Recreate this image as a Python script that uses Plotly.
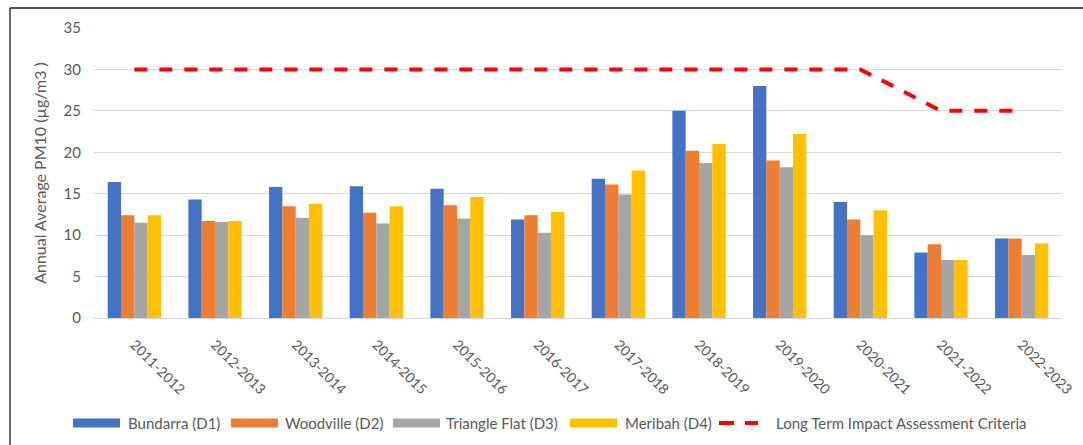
import plotly.graph_objects as go

years = ["2011-2012", "2012-2013", "2013-2014", "2014-2015", "2015-2016", "2016-2017",
         "2017-2018", "2018-2019", "2019-2020", "2020-2021", "2021-2022", "2022-2023"]

bundarra = [16.4, 14.3, 15.8, 15.9, 15.6, 11.9, 16.8, 25.0, 28.0, 14.0, 7.9, 9.6]
woodville = [12.4, 11.7, 13.5, 12.7, 13.6, 12.4, 16.1, 20.2, 19.0, 11.9, 8.9, 9.6]
triangle_flat = [11.5, 11.6, 12.1, 11.4, 12.0, 10.3, 14.9, 18.7, 18.2, 10.0, 7.0, 7.6]
meribah = [12.4, 11.7, 13.8, 13.5, 14.6, 12.8, 17.8, 21.0, 22.2, 13.0, 7.0, 9.0]
criteria = [30, 30, 30, 30, 30, 30, 30, 30, 30, 30, 25, 25]

series_names = ["Bundarra (D1)", "Woodville (D2)", "Triangle Flat (D3)", "Meribah (D4)"]
series_values = [bundarra, woodville, triangle_flat, meribah]
series_colors = ["#4472C4", "#ED7D31", "#A5A5A5", "#FFC000"]
criteria_name = "Long Term Impact Assessment Criteria"
criteria_color = "#FF0000"

W, H = 1083, 445
L, R, T, B = 94, 21, 28, 127
PW, PH = W - L - R, H - T - B

font_family = "Lato, Open Sans, Arial"
grey_text = "#595959"


def px_x(px):
    return (px - L) / PW


def px_y(py):
    return (H - B - py) / PH


fig = go.Figure()
for name, vals, col in zip(series_names, series_values, series_colors):
    fig.add_trace(go.Bar(x=years, y=vals, name=name, marker_color=col,
                         marker_line_width=0))

fig.add_trace(go.Scatter(x=years, y=criteria, mode="lines", name=criteria_name,
                         line=dict(color=criteria_color, width=4, dash="13px,12px")))

# Custom legend row: wide colour swatches followed by their labels
shapes = []
annotations = []
legend_y = 423
swatch_x = [73, 231, 393, 570]
label_x = [126, 283, 444, 623]
for x0, lx, name, col in zip(swatch_x, label_x, series_names, series_colors):
    shapes.append(dict(type="rect", xref="paper", yref="paper",
                       x0=px_x(x0), x1=px_x(x0 + 47),
                       y0=px_y(legend_y + 4.5), y1=px_y(legend_y - 4.5),
                       fillcolor=col, line_width=0))
    annotations.append(dict(text=name, xref="paper", yref="paper",
                            x=px_x(lx), y=px_y(legend_y), xanchor="left",
                            yanchor="middle", showarrow=False,
                            font=dict(size=15, color=grey_text, family=font_family)))
for d0, d1 in [(719, 734), (745, 758)]:
    shapes.append(dict(type="line", xref="paper", yref="paper",
                       x0=px_x(d0), x1=px_x(d1), y0=px_y(legend_y), y1=px_y(legend_y),
                       line=dict(color=criteria_color, width=4)))
annotations.append(dict(text=criteria_name, xref="paper", yref="paper",
                        x=px_x(774), y=px_y(legend_y), xanchor="left",
                        yanchor="middle", showarrow=False,
                        font=dict(size=15, color=grey_text, family=font_family)))

# Chart frame: top and left edges
shapes.append(dict(type="line", xref="paper", yref="paper",
                   x0=px_x(10), x1=px_x(1083), y0=px_y(8), y1=px_y(8),
                   line=dict(color="#1A1A1A", width=1.3)))
shapes.append(dict(type="line", xref="paper", yref="paper",
                   x0=px_x(10), x1=px_x(10), y0=px_y(8), y1=px_y(445),
                   line=dict(color="#1A1A1A", width=1.3)))

fig.update_layout(
    width=W, height=H,
    margin=dict(l=L, r=R, t=T, b=B),
    paper_bgcolor="white", plot_bgcolor="white",
    barmode="group", bargap=0.34, bargroupgap=0,
    font=dict(family=font_family, color=grey_text, size=15),
    showlegend=False,
    shapes=shapes,
    annotations=annotations,
)

fig.update_yaxes(range=[0, 35], dtick=5, showgrid=True, gridcolor="#D9D9D9",
                 gridwidth=1, zeroline=False, showline=False, automargin=False,
                 tickfont=dict(size=15, color=grey_text), ticklabelstandoff=12,
                 title=dict(text="Annual Average PM10 (µg/m3 )",
                            font=dict(size=16, color=grey_text), standoff=12))
fig.update_xaxes(showline=True, linecolor="#D9D9D9", linewidth=1, automargin=False,
                 tickangle=45, tickfont=dict(size=14, color=grey_text),
                 ticklabelstandoff=12, ticks="")

fig.write_html("out.html")
